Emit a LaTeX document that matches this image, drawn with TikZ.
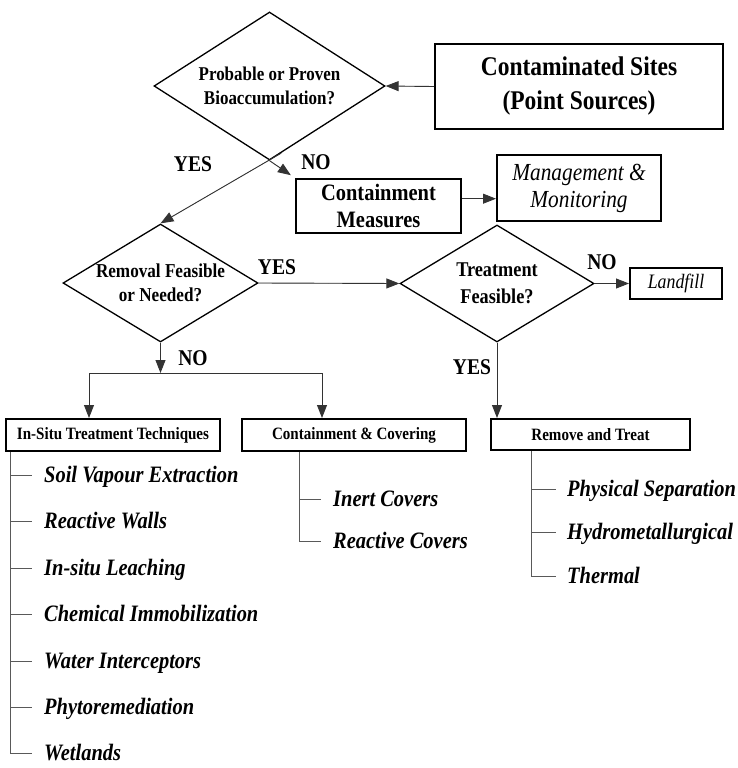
\documentclass[tikz,border=0pt]{standalone}
\usepackage{fontspec}
\setmainfont{Liberation Serif}[FakeStretch=0.87]
\usetikzlibrary{shapes.geometric, arrows.meta, calc}

\begin{document}
\begin{tikzpicture}[x=1pt, y=-1pt, >={Triangle[length=13pt, width=10pt]},
		box/.style={draw, line width=2pt, align=center, inner sep=0pt},
		dia/.style={draw, shape=diamond, line width=1.3pt, inner sep=0pt},
		head/.style={box, font=\fontsize{17.3}{20}\selectfont\bfseries},
		lbl/.style={font=\fontsize{22.5}{26}\selectfont\bfseries},
		con/.style={line width=0.9pt, draw=black!80, fill=black},
		ast/.style={line width=0.8pt, draw=black!65},
		item/.style={anchor=west, inner sep=0pt, text height=18pt, text depth=3pt,
			font=\fontsize{23.5}{27}\selectfont\bfseries\itshape}]
	
	\useasboundingbox (0,0) rectangle (738,768);
	
	% Start und erste Entscheidung
	\node[box, minimum width=288pt, minimum height=85pt, font=\fontsize{27}{34}\selectfont\bfseries] (sites) at (579,86.5) {Contaminated Sites\\(Point Sources)};
	\node[dia, minimum width=231pt, minimum height=148pt,
		label={[align=center, font=\fontsize{19.5}{24}\selectfont\bfseries]center:Probable or Proven\\Bioaccumulation?}] (bio) at (269.5,86) {};
	\draw[con, ->] (sites.west) -- (bio.east);
	
	% Zweig NO
	\node[box, minimum width=165pt, minimum height=54pt, font=\fontsize{23.5}{27}\selectfont\bfseries] (meas) at (378.5,206) {Containment\\Measures};
	\node[box, minimum width=164pt, minimum height=66pt, font=\fontsize{24.5}{27}\selectfont\itshape] (mgmt) at (579,188) {Management \&\\Monitoring};
	\draw[con, ->, shorten >=5pt] (bio.south) -- (meas.north west);
	\draw[con, ->] (meas.5) -- (meas.5 -| mgmt.west);
	\node[lbl] (no1) at (316,162) {NO};
	
	% Zweig YES
	\node[dia, minimum width=195pt, minimum height=118pt,
		label={[align=center, font=\fontsize{19.7}{24}\selectfont\bfseries]center:Removal Feasible\\or Needed?}] (rem) at (160.5,283) {};
	\draw[con, ->] ($(bio.south)!0.1!(bio.east)$) -- (rem.north);
	\node[lbl] (yes1) at (193,164) {YES};
	
	\node[dia, minimum width=194pt, minimum height=117pt,
		label={[align=center, font=\fontsize{21}{27}\selectfont\bfseries]center:Treatment\\Feasible?}] (treat) at (497,283.5) {};
	\draw[con, ->] (rem.east) -- (treat.west);
	\node[lbl] (yes2) at (277,267) {YES};
	
	\node[box, minimum width=92pt, minimum height=31pt, font=\fontsize{20.5}{24}\selectfont\itshape] (land) at (676,283.5) {Landfill};
	\draw[con, ->] (treat.east) -- (land.west);
	\node[lbl] (no3) at (602,262) {NO};
	
	% Massnahmen
	\node[head, minimum width=214pt, minimum height=32pt] (insitu) at (113,435) {In-Situ Treatment Techniques};
	\node[head, minimum width=224pt, minimum height=32pt] (cover) at (354,435) {Containment \& Covering};
	\node[head, minimum width=199pt, minimum height=31pt] (remtr) at (590.5,434.5) {Remove and Treat};
	
	\coordinate (brL) at (89,373);
	\coordinate (brR) at (322,373);
	\draw[con, ->] (rem.south) -- (rem.south |- brL);
	\draw[con] (brL) -- (brR);
	\draw[con, ->] (brL) -- (brL |- insitu.north);
	\draw[con, ->] (brR) -- (brR |- cover.north);
	\node[lbl] (no2) at (193,358) {NO};
	
	\draw[con, ->] (treat.south) -- (treat.south |- remtr.north);
	\node[lbl] (yes3) at (472,367) {YES};
	
	% Listen
	\coordinate (isTop) at ([xshift=5pt]insitu.south west);
	\foreach \y/\t [count=\i] in {475/Soil Vapour Extraction, 521/Reactive Walls, 568/In-situ Leaching, 614/Chemical Immobilization, 661/Water Interceptors, 707/Phytoremediation, 753/Wetlands} {
		\node[item] (is\i) at (44,\y) {\t};
		\draw[ast] (is\i.west -| isTop) -- ++(22,0);
	}
	\draw[ast] (isTop) -- (isTop |- is7.west);
	
	\coordinate (cvTop) at ([xshift=58pt]cover.south west);
	\foreach \y/\t [count=\i] in {499/Inert Covers, 541/Reactive Covers} {
		\node[item] (cv\i) at (333,\y) {\t};
		\draw[ast] (cv\i.west -| cvTop) -- ++(22,0);
	}
	\draw[ast] (cvTop) -- (cvTop |- cv2.west);
	
	\coordinate (rtTop) at ([xshift=41pt]remtr.south west);
	\foreach \y/\t [count=\i] in {489/Physical Separation, 532/Hydrometallurgical, 576/Thermal} {
		\node[item] (rt\i) at (567,\y) {\t};
		\draw[ast] (rt\i.west -| rtTop) -- ++(25,0);
	}
	\draw[ast] (rtTop) -- (rtTop |- rt3.west);
	
\end{tikzpicture}
\end{document}
